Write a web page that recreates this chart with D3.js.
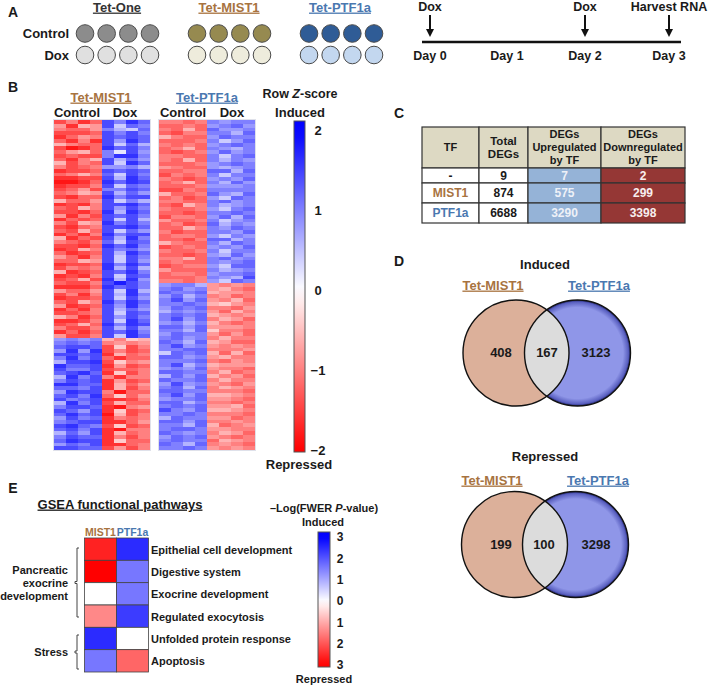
<!DOCTYPE html>
<html><head><meta charset="utf-8">
<script src="https://cdn.jsdelivr.net/npm/d3@7"></script>
<style>
html,body{margin:0;padding:0;background:#fff}
svg{display:block}
text{font-family:"Liberation Sans",Arial,sans-serif;font-weight:700}
</style></head><body><svg id="c" width="709" height="686"></svg>
<script>
// ---------- data ----------
const wellGroups = ["Tet-One","Tet-MIST1","Tet-PTF1a"];
const wellReplicates = [0,1,2,3];
const wellConditions = ["Control","Dox"];
const wellControlColors = ["#8c8c8c","#968a50","#2f5c96"];
const wellDoxColors = ["#e0e0e0","#eeecdc","#c3d7ef"];
const groupLabelColors = ["#333333","#a8733f","#4a78b0"];
const timelineDays = [0,1,2,3];
const timelineEvents = [[0,"Dox"],[2,"Dox"],[3,"Harvest RNA"]];

// one string per heatmap row, one digit per sample: |Z| in steps of 0.2
const mist1InducedRows = ["75867586","48347265","56645326","77767575","86457676","68587486","35667263","79868675",
"64365174","76775885","68537364","37567286","57654453","87767676","65356275","88777386",
"99868687","87757265","76475576","65347364","78668577","36647253","87857786","67357475",
"77868386","48577675","86767273","57348575","78657786","67367264","86858577","38677385",
"56756276","77868685","87357564","68767386","46857275","66347274","87768586","75658373",
"38767685","87857276","76378384","67757975","88868675","46647283","75857385","87767274",
"67358586","48767485","86857364","77657276","35867475","88757286","76368587","57757374",
"86867685","47757286"];
const mist1RepressedRows = ["45453523","56565454","67767275","48487576","77678365","58576866","37787254","86678476",
"75577665","67868275","38575855","57678476","88668364","66578375","48775966","67586264",
"75678875","38577366","57768954","76478276","68679375","47568565","56778864","78657276",
"67578955","36478365","57668575","68778266","46578865","77667475"];
const ptf1aInducedRows = ["55655455","66564564","56366445","67555536","35664655","66655246","56564565","65365435",
"67654645","55665256","56365354","66654565","45664345","66556636","75655255","56764546",
"65365364","66654445","77565555","36656436","65764265","55665645","67355345","56654256",
"66765565","75564636","46655245","65766354","66355465","57665546","65564254","66756635",
"35665365","76564546","56655255","66764364","55365645","65665456","76554266","46665345",
"65564556","66655437","55654265"];
const ptf1aRepressedRows = ["45534545","56454356","65563445","46355465","57464536","55653245","46565564","35454635",
"56563454","57465346","45353565","66464445","55362556","46554646","56455355","65363466",
"57454545","55665554","26563636","66454355","55565645","57353444","45464556","66555365",
"36463546","65565355","47454564","56365345","66555556","57463345","45564456","66355565",
"56564436","75463345","55655556","36554465","66465545","55363654","56654455","65455346",
"46564565","56556345","65365456","55654545"];
const zTicks = [2,1,0,-1,-2];

const tableHeader = [["TF"],["Total","DEGs"],["DEGs","Upregulated","by TF"],["DEGs","Downregulated","by TF"]];
const tableTF = ["-","MIST1","PTF1a"];
const tableTotal = [9,874,6688];
const tableUp = [7,575,3290];
const tableDown = [2,299,3398];

const vennInduced = [408,167,3123];
const vennRepressed = [199,100,3298];

const pathways = ["Epithelial cell development","Digestive system","Exocrine development","Regulated exocytosis","Unfolded protein response","Apoptosis"];
const pathwayFactors = ["MIST1","PTF1a"];
const pathwayMIST1 = [-2.6,-3,0,-1.4,2.5,1.6];
const pathwayPTF1a = [2.5,1.6,1.6,2.3,0,-1.8];
const fwerTicks = [3,2,1,0,-1,-2,-3];

// ---------- helpers ----------
const svg = d3.select("#c");
const defs = svg.append("defs");
function label(s,x,y,size,opt={}){
  return svg.append("text").attr("x",x).attr("y",y).attr("dy","0.35em")
    .attr("text-anchor",opt.anchor||"middle").attr("font-size",size)
    .attr("fill",opt.fill||"#1a1a1a").attr("font-style",opt.italic?"italic":null)
    .style("text-decoration",opt.underline?"underline":null).text(s);
}
[["A",13,12],["B",13,87],["C",399,113],["D",399,261],["E",13,488]].forEach(d=>label(d[0],d[1],d[2],14));

// ---------- A: plate layout ----------
const groupX = d3.scaleOrdinal().domain(wellGroups).range([85,197,309]);
const repX = d3.scaleLinear().domain([0,3]).range([0,65]);
const condY = d3.scaleOrdinal().domain(wellConditions).range([33.5,55]);
[117,229,340].forEach((x,i)=>label(wellGroups[i],x,7,13,{fill:groupLabelColors[i],underline:true}));
wellConditions.forEach(c=>label(c,69,condY(c),13,{anchor:"end"}));
wellGroups.forEach((g,gi)=>wellConditions.forEach(c=>{
  svg.append("g").selectAll("circle").data(wellReplicates).join("circle")
   .attr("cx",r=>groupX(g)+repX(r)).attr("cy",condY(c)).attr("r",8.8)
   .attr("fill",c==="Control"?wellControlColors[gi]:wellDoxColors[gi])
   .attr("stroke","#4a4a4a").attr("stroke-width",1);
}));

// ---------- A: timeline ----------
const dayX = d3.scaleLinear().domain(timelineDays).range([430,507,585,669]);
svg.append("line").attr("x1",422).attr("x2",681).attr("y1",42).attr("y2",42).attr("stroke","#111").attr("stroke-width",2.6);
timelineDays.forEach(d=>label("Day "+d,dayX(d),55.5,12.5));
timelineEvents.forEach(([d,s])=>{
  const x=dayX(d);
  label(s,x,6.5,12.5);
  svg.append("line").attr("x1",x).attr("x2",x).attr("y1",15).attr("y2",31).attr("stroke","#111").attr("stroke-width",2);
  svg.append("path").attr("d",d3.line()([[x-4,29],[x+4,29],[x,37]])+"Z").attr("fill","#111");
});

// ---------- B: heatmaps ----------
const zColor = d3.scaleLinear().domain([-2,0,2]).range(["#ff0000","#ffffff","#0000ff"]).clamp(true);
const blur = defs.append("filter").attr("id","soft").attr("x","-2%").attr("y","-2%").attr("width","104%").attr("height","104%");
blur.append("feGaussianBlur").attr("stdDeviation",0.45);
function heatmap(x0,upper,lower){
  const rows = upper.map(r=>[r,1]).concat(lower.map(r=>[r,-1]));
  const x = d3.scaleBand().domain(d3.range(8)).range([x0,x0+96]);
  const y = d3.scaleBand().domain(d3.range(rows.length)).range([120,450]);
  svg.append("rect").attr("x",x0-1).attr("y",119).attr("width",98).attr("height",332).attr("fill","#dfe1ea");
  const g = svg.append("g").attr("filter","url(#soft)").attr("shape-rendering","crispEdges");
  rows.forEach(([r,sign],i)=>{
    g.selectAll(null).data(d3.range(8)).join("rect")
     .attr("x",c=>x(c)).attr("y",y(i)).attr("width",x.bandwidth()+0.3).attr("height",y.bandwidth()+0.4)
     .attr("fill",c=>zColor((c<4?-sign:sign)*(+r[c])*0.2));
  });
}
heatmap(54,mist1InducedRows,mist1RepressedRows);
heatmap(159,ptf1aInducedRows,ptf1aRepressedRows);
label("Tet-MIST1",101,97,13,{fill:groupLabelColors[1],underline:true});
label("Tet-PTF1a",207,97,13,{fill:groupLabelColors[2],underline:true});
[[77,"Control"],[125,"Dox"],[183,"Control"],[232,"Dox"]].forEach(d=>label(d[1],d[0],112,13));

function colorbar(id,x,w,y0,y1,scale,dom,stroke){
  const g=defs.append("linearGradient").attr("id",id).attr("x1",0).attr("x2",0).attr("y1",0).attr("y2",1);
  d3.range(0,1.0001,0.05).forEach(t=>{
    const v=scale.invert(y0+t*(y1-y0));
    g.append("stop").attr("offset",t).attr("stop-color",dom(v));
  });
  svg.append("rect").attr("x",x).attr("y",y0).attr("width",w).attr("height",y1-y0).attr("fill",`url(#${id})`)
    .attr("stroke",stroke).attr("stroke-width",1);
}
const zY = d3.scaleLinear().domain([2,-2]).range([130,450]);
colorbar("gz",294,11,121,452,zY,zColor,"#555");
zTicks.forEach(t=>label(t<0?"\u2212"+(-t):String(t),318,zY(t),13));
svg.append("text").attr("x",300).attr("y",94).attr("dy","0.35em").attr("text-anchor","middle").attr("font-size",12.5).attr("fill","#1a1a1a")
  .html('Row <tspan font-style="italic">Z</tspan>-score');
label("Induced",300,112,13);
label("Repressed",299,464,13);

// ---------- C: table ----------
const colEdges=[422,479,528,601,685], rowEdges=[127,168,183,203,223];
const upFill="#95b3d7", downFill="#953735", headFill="#ddd9c3", lineCol="#333";
function cell(c,r,fill){
  svg.append("rect").attr("x",colEdges[c]).attr("y",rowEdges[r]).attr("width",colEdges[c+1]-colEdges[c])
   .attr("height",rowEdges[r+1]-rowEdges[r]).attr("fill",fill).attr("stroke",lineCol).attr("stroke-width",1.2);
}
const midX=c=>(colEdges[c]+colEdges[c+1])/2, midY=r=>(rowEdges[r]+rowEdges[r+1])/2;
tableHeader.forEach((lines,c)=>{
  cell(c,0,headFill);
  lines.forEach((s,i)=>label(s,midX(c),midY(0)+(i-(lines.length-1)/2)*13,c==1?11.5:11));
});
tableTF.forEach((tf,i)=>{
  cell(0,i+1,"#fff");cell(1,i+1,"#fff");cell(2,i+1,upFill);cell(3,i+1,downFill);
  const cy=midY(i+1);
  label(tf,midX(0),cy,12,{fill:i==1?groupLabelColors[1]:i==2?groupLabelColors[2]:"#1a1a1a"});
  label(tableTotal[i],midX(1),cy,12);
  label(tableUp[i],midX(2),cy,12,{fill:"#eef1f7"});
  label(tableDown[i],midX(3),cy,12,{fill:"#f8eeee"});
});

// ---------- D: venns ----------
const rg=defs.append("radialGradient").attr("id","vb");
[[0,"#8f96e8"],[0.86,"#8f96e8"],[0.96,"#5a60c0"],[1,"#1f2370"]].forEach(d=>rg.append("stop").attr("offset",d[0]).attr("stop-color",d[1]));
function venn(id,values,title,tY,lY,xl,xr,cy,r,mx,lx,rx){
  label(title,545,tY,13);
  label("Tet-MIST1",lx,lY,13,{fill:groupLabelColors[1],underline:true});
  label("Tet-PTF1a",rx,lY,13,{fill:groupLabelColors[2],underline:true});
  const cp=defs.append("clipPath").attr("id",id);
  cp.append("circle").attr("cx",xl).attr("cy",cy).attr("r",r);
  svg.append("circle").attr("cx",xr).attr("cy",cy).attr("r",r).attr("fill","url(#vb)");
  svg.append("circle").attr("cx",xl).attr("cy",cy).attr("r",r).attr("fill","#dcb09a");
  svg.append("circle").attr("cx",xr).attr("cy",cy).attr("r",r).attr("fill","#dcdcdc").attr("clip-path",`url(#${id})`);
  [xl,xr].forEach(x=>svg.append("circle").attr("cx",x).attr("cy",cy).attr("r",r).attr("fill","none").attr("stroke","#111").attr("stroke-width",1.4));
  values.forEach((v,i)=>label(v,mx[i],cy-0.5,13));
}
venn("v1",vennInduced,"Induced",264,285,516,577.5,353,53,[501,547,596],493,599);
venn("v2",vennRepressed,"Repressed",456,480,514.5,575.5,544.5,53,[501,544,596],492,598);

// ---------- E: pathways ----------
label("GSEA functional pathways",120,504,13,{underline:true});
const pX=d3.scaleBand().domain(pathwayFactors).range([84.5,148.5]);
const pY=d3.scaleBand().domain(pathways).range([538,672]);
const pColor=d3.scaleLinear().domain([-3,0,3]).range(["#ff0000","#ffffff","#0000ff"]).clamp(true);
label("MIST1",pX("MIST1")+pX.bandwidth()/2,532,10.5,{fill:groupLabelColors[1]});
label("PTF1a",pX("PTF1a")+pX.bandwidth()/2,532,10.5,{fill:groupLabelColors[2]});
pathways.forEach((p,i)=>{
  [["MIST1",pathwayMIST1],["PTF1a",pathwayPTF1a]].forEach(([f,vals])=>{
    svg.append("rect").attr("x",pX(f)).attr("y",pY(p)).attr("width",pX.bandwidth()).attr("height",pY.bandwidth())
      .attr("fill",pColor(vals[i])).attr("stroke","#444").attr("stroke-width",0.8);
  });
  label(p,151,pY(p)+pY.bandwidth()/2+0.5,11,{anchor:"start"});
});
["Pancreatic","exocrine","development"].forEach((s,i)=>label(s,68,570+i*13.3,11,{anchor:"end"}));
label("Stress",68,652,11,{anchor:"end"});
function bracket(y0,y1){
  const m=(y0+y1)/2;
  svg.append("path").attr("d",`M79,${y0}H77V${m-1}H75V${m+1}H77V${y1}H79`).attr("fill","none").attr("stroke","#444").attr("stroke-width",1);
}
bracket(548,617);bracket(635,669);
const fY=d3.scaleLinear().domain([3,-3]).range([537,665]);
colorbar("gf",318,12,532,667,fY,pColor,"#555");
fwerTicks.forEach(t=>label(Math.abs(t),340,fY(t),12));
svg.append("text").attr("x",324).attr("y",508).attr("dy","0.35em").attr("text-anchor","middle").attr("font-size",11).attr("fill","#1a1a1a")
  .html('\u2013Log(FWER <tspan font-style="italic">P</tspan>-value)');
label("Induced",323,522,11);
label("Repressed",324,679,11);
</script></body></html>
